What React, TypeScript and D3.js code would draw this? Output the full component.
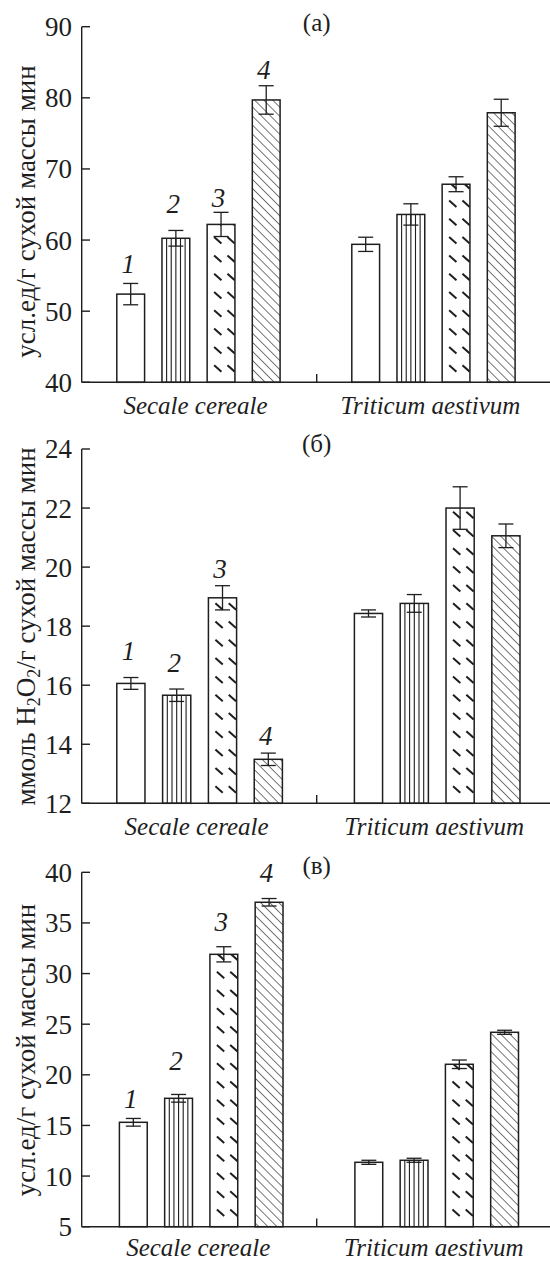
import React from "react";
import * as d3 from "d3";

// ---------- data ----------
const groups = ["Secale cereale", "Triticum aestivum"];
const seriesLabels = ["1", "2", "3", "4"];
const seriesPatterns = ["plain", "vertical", "dash", "hatch"];

const titleA = "(а)";
const ticksA = [40, 50, 60, 70, 80, 90];
const valuesA = [
  [52.4, 60.25, 62.2, 79.7],
  [59.4, 63.6, 67.85, 77.9],
];
const errorsA = [
  [1.5, 1.1, 1.7, 2.0],
  [1.0, 1.5, 1.05, 1.9],
];
const labelPosA = [55.4, 63.8, 64.7, 82.6];

const titleB = "(б)";
const ticksB = [12, 14, 16, 18, 20, 22, 24];
const valuesB = [
  [16.06, 15.66, 18.96, 13.49],
  [18.43, 18.77, 22.0, 21.06],
];
const errorsB = [
  [0.2, 0.21, 0.41, 0.21],
  [0.12, 0.3, 0.72, 0.4],
];
const labelPosB = [16.85, 16.46, 19.62, 13.97];

const titleC = "(в)";
const ticksC = [5, 10, 15, 20, 25, 30, 35, 40];
const valuesC = [
  [15.31, 17.68, 31.9, 37.04],
  [11.36, 11.56, 21.04, 24.2],
];
const errorsC = [
  [0.38, 0.38, 0.75, 0.37],
  [0.2, 0.2, 0.42, 0.2],
];
const labelPosC = [16.69, 20.47, 34.2, 39.0];

// ---------- layout ----------
const W = 550;
const H = 1262;
const AXIS_X = 81.7;
const FONT = '"Liberation Serif", "DejaVu Serif", "Times New Roman", Times, serif';
const INK = "#1e1e1e";

type Panel = {
  key: string;
  title: string;
  ticks: number[];
  values: number[][];
  errors: number[][];
  labelPos: number[];
  yTop: number;
  yBottom: number;
  titleY: number;
  labelCenter: number;
  groupEnd: number;
  inner: [number, number];
  catDy: number;
  ylabel: "a" | "b";
};

const panels: Panel[] = [
  {
    key: "a", title: titleA, ticks: ticksA, values: valuesA, errors: errorsA, labelPos: labelPosA,
    yTop: 26.7, yBottom: 382.3, titleY: 31, labelCenter: 211.5, groupEnd: 551.7, inner: [35.1, 198.4], catDy: 32, ylabel: "a",
  },
  {
    key: "b", title: titleB, ticks: ticksB, values: valuesB, errors: errorsB, labelPos: labelPosB,
    yTop: 449, yBottom: 803.3, titleY: 452, labelCenter: 626.5, groupEnd: 556.9, inner: [35.1, 200.7], catDy: 32, ylabel: "b",
  },
  {
    key: "c", title: titleC, ticks: ticksC, values: valuesC, errors: errorsC, labelPos: labelPosC,
    yTop: 872.3, yBottom: 1226.7, titleY: 874, labelCenter: 1050, groupEnd: 552.7, inner: [37.7, 201.3], catDy: 29, ylabel: "a",
  },
];

const tickGroupScale = d3.scaleBand<string>().domain(groups).range([AXIS_X, 551.7]);

const textStyle: React.CSSProperties = { fontFamily: FONT };

function PanelView({ p }: { p: Panel }) {
  const dom = d3.extent(p.ticks) as [number, number];
  const y = d3.scaleLinear().domain(dom).range([p.yBottom, p.yTop]);
  const xg = d3.scaleBand<string>().domain(groups).range([AXIS_X, p.groupEnd]);
  const xi = d3
    .scaleBand<string>()
    .domain(seriesLabels)
    .range(p.inner)
    .paddingInner(0.385)
    .paddingOuter(0);
  const bw = xi.bandwidth();
  const y0 = y(dom[0]);
  const midTick = tickGroupScale(groups[1]) as number;

  const bars: React.ReactNode[] = [];
  const overlays: React.ReactNode[] = [];

  groups.forEach((g, gi) => {
    seriesLabels.forEach((s, si) => {
      const v = p.values[gi][si];
      const e = p.errors[gi][si];
      const x = (xg(g) as number) + (xi(s) as number);
      const yt = y(v);
      const h = y0 - yt;
      const pat = seriesPatterns[si];
      const id = `clip-${p.key}-${gi}-${si}`;
      const inner: React.ReactNode[] = [];
      if (pat === "vertical") {
        for (let k = 1; k <= 5; k++) {
          const lx = x + (bw * k) / 6;
          inner.push(<line key={k} x1={lx} x2={lx} y1={yt} y2={y0} stroke={INK} strokeWidth={1.1} />);
        }
      } else if (pat === "dash") {
        const period = 18.3;
        for (let k = 0; ; k++) {
          const yb = y0 - 10.6 - k * period;
          if (yb < yt - 8) break;
          [7, 20.3].forEach((dx, c) => {
            inner.push(
              <line
                key={`${k}-${c}`}
                x1={x + dx}
                y1={yb - 6.5}
                x2={x + dx + 7.3}
                y2={yb}
                stroke={INK}
                strokeWidth={2}
              />
            );
          });
        }
      } else if (pat === "hatch") {
        inner.push(<rect key="h" x={x} y={yt} width={bw} height={h} fill="url(#hatch)" />);
      }
      bars.push(
        <g key={`bar-${gi}-${si}`}>
          <clipPath id={id}>
            <rect x={x} y={yt} width={bw} height={h} />
          </clipPath>
          <rect x={x} y={yt} width={bw} height={h} fill="#fff" />
          <g clipPath={`url(#${id})`}>{inner}</g>
          <rect x={x} y={yt} width={bw} height={h} fill="none" stroke={INK} strokeWidth={1.5} />
        </g>
      );
      const cx = x + bw / 2;
      overlays.push(
        <g key={`err-${gi}-${si}`} stroke={INK} strokeWidth={1.3}>
          <line x1={cx} x2={cx} y1={y(v + e)} y2={y(v - e)} />
          <line x1={cx - 7.5} x2={cx + 7.5} y1={y(v + e)} y2={y(v + e)} />
          <line x1={cx - 7.5} x2={cx + 7.5} y1={y(v - e)} y2={y(v - e)} />
        </g>
      );
      if (gi === 0) {
        overlays.push(
          <text
            key={`lab-${si}`}
            x={cx - 2.5}
            y={y(p.labelPos[si])}
            textAnchor="middle"
            fontStyle="italic"
            fontSize={27}
            fill={INK}
            style={textStyle}
          >
            {s}
          </text>
        );
      }
    });
  });

  return (
    <g>
      {bars}
      {overlays}
      <line x1={AXIS_X} x2={AXIS_X} y1={p.yTop} y2={y0} stroke={INK} strokeWidth={1.4} />
      <line x1={AXIS_X} x2={W} y1={y0} y2={y0} stroke={INK} strokeWidth={1.4} />
      <line x1={midTick} x2={midTick} y1={y0} y2={y0 - 8.3} stroke={INK} strokeWidth={1.4} />
      {p.ticks.map((t) => (
        <g key={t}>
          <line x1={AXIS_X} x2={AXIS_X + 8.3} y1={y(t)} y2={y(t)} stroke={INK} strokeWidth={1.4} />
          <text x={72} y={y(t)} dy="0.35em" textAnchor="end" fontSize={27} fill={INK} style={textStyle}>
            {t}
          </text>
        </g>
      ))}
      {groups.map((g) => (
        <text
          key={g}
          x={(xg(g) as number) + (p.inner[0] + p.inner[1]) / 2 - 3}
          y={y0 + p.catDy}
          textAnchor="middle"
          fontStyle="italic"
          fontSize={25}
          fill={INK}
          style={textStyle}
        >
          {g}
        </text>
      ))}
      <text x={316.7} y={p.titleY} textAnchor="middle" fontSize={25} fill={INK} style={textStyle}>
        {p.title}
      </text>
      <text
        transform={`translate(34.5, ${p.labelCenter}) rotate(-90)`}
        textAnchor="middle"
        fontSize={27}
        fill={INK}
        style={textStyle}
      >
        {p.ylabel === "a" ? (
          "усл.ед/г сухой массы мин"
        ) : (
          <>
            ммоль H<tspan fontSize={18} dy={5}>2</tspan>
            <tspan dy={-5}>O</tspan>
            <tspan fontSize={18} dy={5}>2</tspan>
            <tspan dy={-5}>/г сухой массы мин</tspan>
          </>
        )}
      </text>
    </g>
  );
}

export default function App() {
  return (
    <svg
      width={W}
      height={H}
      viewBox={`0 0 ${W} ${H}`}
      style={{ position: "absolute", left: 0, top: 0, background: "#fff", fontFamily: FONT }}
    >
      <defs>
        <pattern id="hatch" patternUnits="userSpaceOnUse" width={6.4} height={6.4} patternTransform="rotate(-45)">
          <line x1={0} y1={-1} x2={0} y2={8} stroke={INK} strokeWidth={1.2} />
        </pattern>
      </defs>
      <rect x={0} y={0} width={W} height={H} fill="#fff" />
      {panels.map((p) => (
        <PanelView key={p.key} p={p} />
      ))}
    </svg>
  );
}
